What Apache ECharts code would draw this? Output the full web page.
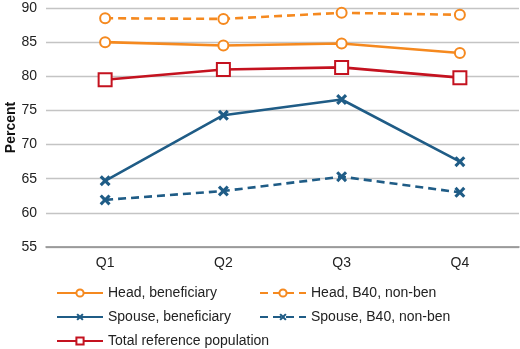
<!DOCTYPE html>
<html>
<head>
<meta charset="utf-8">
<script src="https://cdn.jsdelivr.net/npm/echarts@6/dist/echarts.min.js"></script>
<style>
  html, body { margin: 0; padding: 0; background: #fff; }
  #chart { width: 520px; height: 349px; }
</style>
</head>
<body>
<div id="chart"></div>
<script>
// categories and values
const quarters = ['Q1', 'Q2', 'Q3', 'Q4']
const headBen = [85.0, 84.5, 84.8, 83.4]
const headB40 = [88.5, 88.4, 89.3, 89.0]
const spouseBen = [64.7, 74.3, 76.6, 67.5]
const spouseB40 = [61.9, 63.2, 65.3, 63.0]
const totalRef = [79.5, 81.0, 81.3, 79.8]
const yTicks = { min: 55, max: 90, step: 5 }

const ORANGE = '#F5891F'
const BLUE = '#1F5C86'
const RED = '#C4121F'
const CROSS = 'path://M0,2 L2,0 L5,3 L8,0 L10,2 L7,5 L10,8 L8,10 L5,7 L2,10 L0,8 L3,5 Z'

function lineSeries (name, data, color, dashed, marker) {
  const s = {
    name: name,
    type: 'line',
    data: data,
    lineStyle: { color: color, width: 2.6, type: dashed ? [8, 5] : 'solid' },
    symbolKeepAspect: true
  }
  if (marker === 'circle') {
    s.symbol = 'circle'
    s.symbolSize = 10
    s.itemStyle = { color: '#fff', borderColor: color, borderWidth: 2 }
  } else if (marker === 'rect') {
    s.symbol = 'rect'
    s.symbolSize = 13
    s.itemStyle = { color: '#fff', borderColor: color, borderWidth: 2 }
  } else {
    s.symbol = CROSS
    s.symbolSize = 11
    s.itemStyle = { color: color, borderWidth: 0 }
  }
  return s
}

const chart = echarts.init(document.getElementById('chart'))
const legendText = { fontFamily: 'Liberation Sans', fontSize: 14, color: '#222' }
chart.setOption({
  animation: false,
  textStyle: { fontFamily: 'Liberation Sans' },
  grid: { left: 46, right: 1, top: 8, bottom: 102, containLabel: false, outerBoundsMode: 'none' },
  legend: [
    {
      data: ['Head, beneficiary', 'Spouse, beneficiary', 'Total reference population'],
      orient: 'vertical', left: 56, top: 286, height: 70, padding: 0, itemGap: 10,
      itemWidth: 46, itemHeight: 9, itemTextGap: 3, textStyle: legendText
    },
    {
      data: ['Head, B40, non-ben', 'Spouse, B40, non-ben'],
      orient: 'vertical', left: 259, top: 286, height: 70, padding: 0, itemGap: 10,
      itemWidth: 46, itemHeight: 9, itemTextGap: 3, textStyle: legendText
    }
  ],
  xAxis: {
    type: 'category',
    data: quarters,
    boundaryGap: true,
    axisLine: { lineStyle: { color: '#8c8c8c', width: 1.5 } },
    axisTick: { show: false },
    axisLabel: { color: '#222', fontSize: 14, margin: 9 }
  },
  yAxis: {
    type: 'value',
    min: yTicks.min,
    max: yTicks.max,
    interval: yTicks.step,
    name: 'Percent',
    nameLocation: 'middle',
    nameGap: 28,
    nameMoveOverlap: false,
    nameTextStyle: { fontWeight: 'bold', fontSize: 14, color: '#111' },
    axisLine: { show: false },
    axisTick: { show: false },
    axisLabel: { color: '#222', fontSize: 14, margin: 9 },
    splitLine: { lineStyle: { color: '#c4c4c4', width: 1.3 } }
  },
  series: [
    lineSeries('Head, beneficiary', headBen, ORANGE, false, 'circle'),
    lineSeries('Head, B40, non-ben', headB40, ORANGE, true, 'circle'),
    lineSeries('Spouse, beneficiary', spouseBen, BLUE, false, 'cross'),
    lineSeries('Spouse, B40, non-ben', spouseB40, BLUE, true, 'cross'),
    lineSeries('Total reference population', totalRef, RED, false, 'rect')
  ]
})
</script>
</body>
</html>
